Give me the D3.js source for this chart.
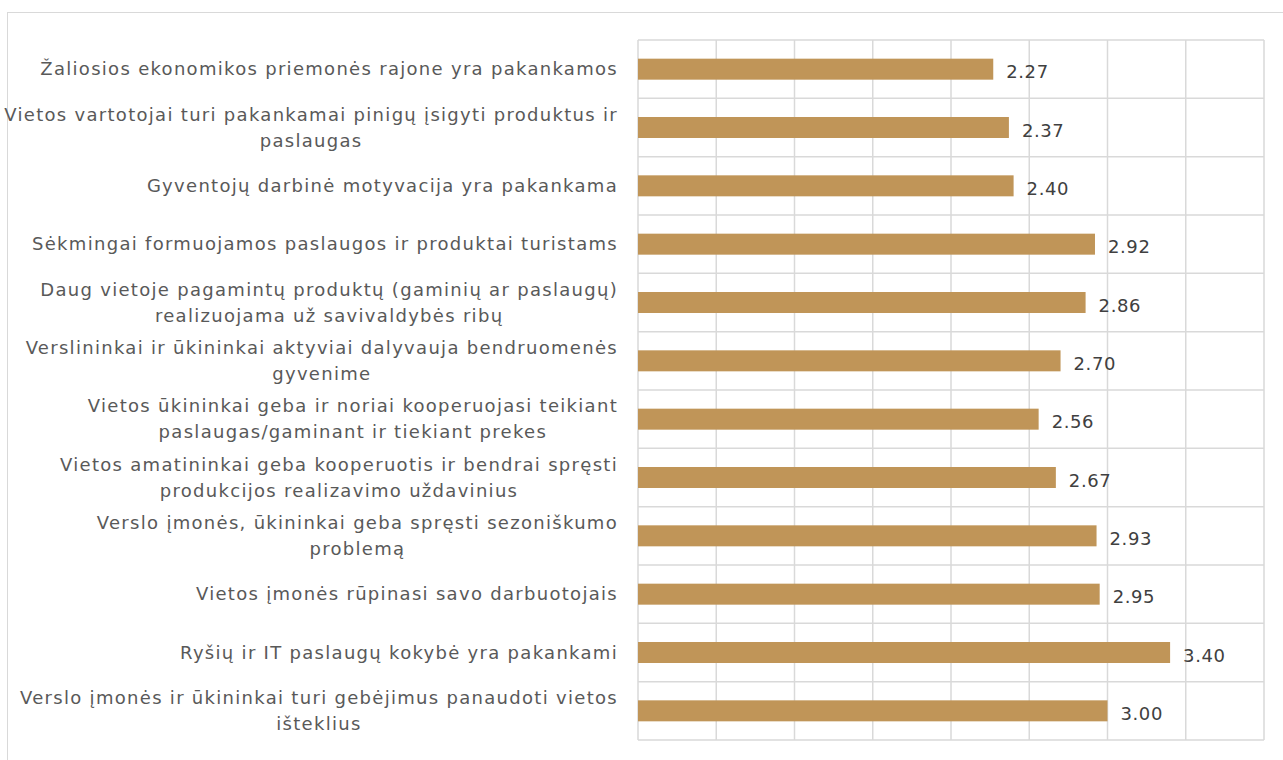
<!DOCTYPE html>
<html>
<head>
<meta charset="utf-8">
<script src="https://cdn.jsdelivr.net/npm/d3@7"></script>
<style>
  html, body { margin: 0; padding: 0; background: #fff; }
  svg { display: block; }
</style>
</head>
<body>
<div id="chart"></div>
<script>
// category labels, already split into the lines they wrap to
const categories = [
    ["Žaliosios ekonomikos priemonės rajone yra pakankamos"],
    ["Vietos vartotojai turi pakankamai pinigų įsigyti produktus ir", "paslaugas"],
    ["Gyventojų darbinė motyvacija yra pakankama"],
    ["Sėkmingai formuojamos paslaugos ir produktai turistams"],
    ["Daug vietoje pagamintų produktų (gaminių ar paslaugų)", "realizuojama už savivaldybės ribų"],
    ["Verslininkai ir ūkininkai aktyviai dalyvauja bendruomenės", "gyvenime"],
    ["Vietos ūkininkai geba ir noriai kooperuojasi teikiant", "paslaugas/gaminant ir tiekiant prekes"],
    ["Vietos amatininkai geba kooperuotis ir bendrai spręsti", "produkcijos realizavimo uždavinius"],
    ["Verslo įmonės, ūkininkai geba spręsti sezoniškumo", "problemą"],
    ["Vietos įmonės rūpinasi savo darbuotojais"],
    ["Ryšių ir IT paslaugų kokybė yra pakankami"],
    ["Verslo įmonės ir ūkininkai turi gebėjimus panaudoti vietos", "išteklius"]
];
const values = [2.27, 2.37, 2.40, 2.92, 2.86, 2.70, 2.56, 2.67, 2.93, 2.95, 3.40, 3.00];
const xTicks = [0, 0.5, 1, 1.5, 2, 2.5, 3, 3.5, 4];

const width = 1283, height = 760;
const margin = { top: 40, right: 19, bottom: 20, left: 638 };

const data = categories.map((lines, i) => ({ key: i, lines, value: values[i] }));

const svg = d3.select("#chart").append("svg")
    .attr("width", width)
    .attr("height", height)
    .style("font-family", "'Century Gothic', 'DejaVu Sans', sans-serif");

// outer chart frame
svg.append("rect")
    .attr("x", 7.5).attr("y", 12.5)
    .attr("width", width + 10).attr("height", height + 10)
    .attr("fill", "none")
    .attr("stroke", "#d9d9d9")
    .attr("stroke-width", 1);

const x = d3.scaleLinear()
    .domain([0, 4])
    .range([margin.left, width - margin.right]);

const y = d3.scaleBand()
    .domain(data.map(d => d.key))
    .range([margin.top, height - margin.bottom])
    .paddingInner(0)
    .paddingOuter(0);

const barH = y.bandwidth() * 0.36;

// vertical grid
svg.append("g")
    .selectAll("line")
    .data(xTicks)
    .join("line")
    .attr("x1", d => x(d)).attr("x2", d => x(d))
    .attr("y1", y.range()[0]).attr("y2", y.range()[1])
    .attr("stroke", "#d9d9d9")
    .attr("stroke-width", 1.5);

// horizontal grid at category boundaries
const bounds = data.map(d => y(d.key)).concat([y.range()[1]]);
svg.append("g")
    .selectAll("line")
    .data(bounds)
    .join("line")
    .attr("x1", x(0)).attr("x2", x(4))
    .attr("y1", d => d).attr("y2", d => d)
    .attr("stroke", "#d9d9d9")
    .attr("stroke-width", 1.5);

// bars
svg.append("g")
    .selectAll("rect")
    .data(data)
    .join("rect")
    .attr("x", x(0))
    .attr("y", d => y(d.key) + (y.bandwidth() - barH) / 2)
    .attr("width", d => x(d.value) - x(0))
    .attr("height", barH)
    .attr("fill", "#c09558");

// value labels
svg.append("g")
    .selectAll("text")
    .data(data)
    .join("text")
    .attr("x", d => x(d.value) + 13)
    .attr("y", d => y(d.key) + y.bandwidth() / 2 + 3)
    .attr("dy", "0.35em")
    .attr("fill", "#404040")
    .style("font-size", "18px")
    .style("letter-spacing", "0.6px")
    .text(d => d.value.toFixed(2));

// category labels: lines centred on each other, block right-aligned
const lineH = 26;
const labels = svg.append("g")
    .selectAll("text")
    .data(data)
    .join("text")
    .attr("fill", "#595959")
    .style("font-size", "18px")
    .style("letter-spacing", "1.3px")
    .attr("text-anchor", "middle");

labels.each(function (d) {
    const t = d3.select(this);
    const n = d.lines.length;
    const cy = y(d.key) + y.bandwidth() / 2;
    d.lines.forEach((line, i) => {
        t.append("tspan")
            .attr("y", cy + (i - (n - 1) / 2) * lineH)
            .attr("dy", "0.35em")
            .text(line);
    });
    const w = d3.max(t.selectAll("tspan").nodes(), s => s.getComputedTextLength());
    t.selectAll("tspan").attr("x", 618 - w / 2);
});
</script>
</body>
</html>
